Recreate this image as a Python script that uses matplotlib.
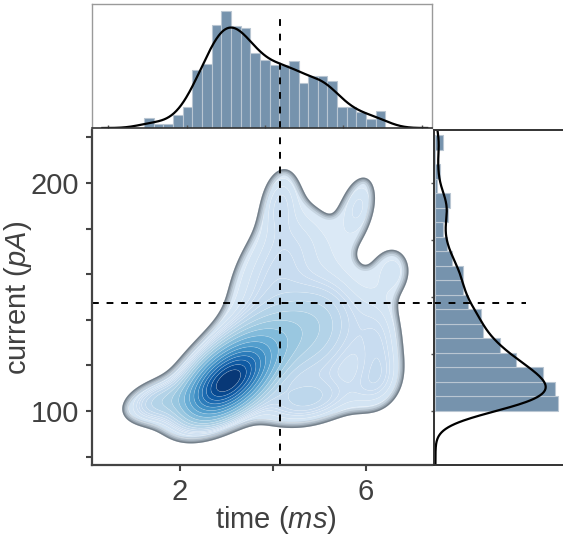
import numpy as np
import matplotlib
matplotlib.use("Agg")
import matplotlib.pyplot as plt
from matplotlib.patches import PathPatch

plt.rcParams['font.family'] = ['Liberation Sans', 'DejaVu Sans']
plt.rcParams['mathtext.fontset'] = 'custom'
plt.rcParams['mathtext.rm'] = 'Liberation Sans'
plt.rcParams['mathtext.it'] = 'Liberation Sans:italic'

# ---- marginal histograms (density per bin) ----
time_bin_start = 1.23
time_bin_width = 0.2075
time_density = [0.041, 0.017, 0.017, 0.053, 0.083, 0.231, 0.254, 0.410, 0.465,
                0.406, 0.396, 0.298, 0.270, 0.251, 0.251, 0.265, 0.178, 0.208,
                0.208, 0.185, 0.083, 0.083, 0.063, 0.037, 0.066]

current_bin_start = 100.0
current_bin_width = 6.36
current_density = [0.0256, 0.0251, 0.0225, 0.0169, 0.0135, 0.0100, 0.0096,
                   0.0068, 0.0057, 0.0057, 0.0035, 0.0024, 0.0015, 0.0026,
                   0.0031, 0.0003, 0.0009, 0.0000, 0.0015]

time_mean = 4.15
current_mean = 147.5

# ---- joint density as a sum of correlated gaussian blobs ----
blob_time = [3.0, 3.3, 5.0, 4.0, 4.15, 5.85, 6.6, 6.3, 1.5, 4.7, 5.0, 6.2]
blob_current = [112, 120, 135, 162, 193, 190, 162, 130, 104, 104, 175, 112]
blob_time_sd = [0.52, 0.8, 0.7, 0.7, 0.28, 0.28, 0.3, 0.35, 0.45, 0.7, 0.6, 0.4]
blob_current_sd = [9.5, 14, 18, 20, 10, 10, 8, 14, 6, 7, 10, 9]
blob_corr = [0.5, 0.6, 0.2, 0.5, 0.2, 0.3, 0.0, 0.0, 0.3, 0.3, 0.0, 0.2]
blob_weight = [0.30, 0.25, 0.15, 0.09, 0.016, 0.016, 0.011, 0.03, 0.028, 0.04, 0.01, 0.018]

time_lim = (0.108, 7.42)
current_lim = (76.3, 223.2)
n_levels = 20
thresh = 0.05

TEXT = '#404040'
SPINE = '#444444'
BAR = '#7693ad'
BAR_EDGE = '#b9c6d2'


def joint_density(X, Y):
    Z = np.zeros_like(X)
    for mx, my, sx, sy, r, w in zip(blob_time, blob_current, blob_time_sd,
                                    blob_current_sd, blob_corr, blob_weight):
        u = (X - mx) / sx
        v = (Y - my) / sy
        q = (u * u - 2 * r * u * v + v * v) / (1 - r * r)
        Z += w * np.exp(-0.5 * q) / (2 * np.pi * sx * sy * np.sqrt(1 - r * r))
    return Z


def smooth_hist(start, width, dens, grid, bw):
    dens = np.asarray(dens)
    centers = start + width * (np.arange(len(dens)) + 0.5)
    p = dens * width
    p = p / p.sum()
    z = (grid[:, None] - centers[None, :]) / bw
    return (np.exp(-0.5 * z ** 2) / (bw * np.sqrt(2 * np.pi))) @ p


fig = plt.figure(figsize=(5.63, 5.37), dpi=100)
W, H = 563.0, 537.0
ax = fig.add_axes([92 / W, (H - 465) / H, 340 / W, 335 / H])
ax_top = fig.add_axes([92 / W, (H - 128) / H, 340 / W, 124 / H])
ax_right = fig.add_axes([434 / W, (H - 465) / H, 129 / W, 335 / H])

# ---- joint KDE ----
gx = np.linspace(*time_lim, 400)
gy = np.linspace(*current_lim, 400)
X, Y = np.meshgrid(gx, gy)
Z = joint_density(X, Y)

vals = np.sort(Z.ravel())[::-1]
cum = np.cumsum(vals) / vals.sum()
props = np.linspace(thresh, 1, n_levels)
idx = np.searchsorted(cum, 1 - props)
levels = np.take(vals, idx, mode='clip')
levels = np.unique(levels)
levels[-1] = Z.max() * 1.001

# band colour follows the density value of each band
mids = 0.5 * (levels[:-1] + levels[1:])
frac = (mids - levels[0]) / (levels[-1] - levels[0])
cols = plt.cm.Blues(0.11 + 0.89 * frac ** 0.7)
ax.contourf(X, Y, Z, levels=levels, colors=cols, antialiased=True)
ax.contour(X, Y, Z, levels=levels[1:-1], colors='white', linewidths=0.4, alpha=0.3)

# soft grey rim along the outer contour, kept inside the filled region
outer = ax.contourf(X, Y, Z, levels=[levels[0], Z.max() * 2], colors='none')
clip = PathPatch(outer.get_paths()[0], transform=ax.transData,
                 facecolor='none', edgecolor='none')
ax.add_patch(clip)
for lw, a in [(9, 0.13), (6, 0.17), (3.8, 0.24), (2.0, 0.36)]:
    rim = ax.contour(X, Y, Z, levels=[levels[0]], colors='#3e4852',
                     linewidths=lw, alpha=a)
    rim.set_clip_path(clip)

ax.axvline(time_mean, color='black', ls=(0, (3.5, 4)), lw=1.4)
ax.axhline(current_mean, color='black', ls=(0, (3.5, 4)), lw=1.4)

ax.set_xlim(*time_lim)
ax.set_ylim(*current_lim)
ax.set_xticks([2, 6])
ax.set_xticks([4], minor=True)
ax.set_yticks([100, 200])
ax.set_yticks([80, 120, 140, 160, 180, 220], minor=True)
ax.tick_params(which='both', direction='out', length=4, width=1.5,
               color=SPINE, labelsize=21, labelcolor=TEXT, pad=5)
for s in ['top', 'right']:
    ax.spines[s].set_visible(False)
for s in ['left', 'bottom']:
    ax.spines[s].set_color(SPINE)
    ax.spines[s].set_linewidth(1.6)
ax.set_xlabel('time ($\\it{ms}$)', fontsize=21, color=TEXT)
ax.set_ylabel('current ($\\it{pA}$)', fontsize=21, color=TEXT)
ax.xaxis.set_label_coords(0.54, -0.116)
ax.yaxis.set_label_coords(-0.172, 0.5)

# ---- top marginal ----
t_edges = time_bin_start + time_bin_width * np.arange(len(time_density))
ax_top.bar(t_edges, time_density, width=time_bin_width, align='edge',
           color=BAR, edgecolor=BAR_EDGE, linewidth=0.8)
tg = np.linspace(time_bin_start - 0.9, t_edges[-1] + time_bin_width + 0.9, 400)
ax_top.plot(tg, smooth_hist(time_bin_start, time_bin_width, time_density, tg, 0.3),
            color='black', lw=1.6)
ax_top.axvline(time_mean, ymax=0.935, color='black', ls=(0, (3.5, 4)), lw=1.4)
ax_top.set_xlim(*time_lim)
ax_top.set_ylim(0, 0.492)
ax_top.set_yticks([])
ax_top.set_xticks([0.45, 2.15, 3.83, 5.5, 7.2])
ax_top.tick_params(axis='x', direction='in', length=2.5, width=1,
                   color='#555555', labelbottom=False)
for s in ['top', 'left', 'right']:
    ax_top.spines[s].set_color('#9a9a9a')
    ax_top.spines[s].set_linewidth(1.0)
ax_top.spines['bottom'].set_color('#333333')
ax_top.spines['bottom'].set_linewidth(1.2)

# ---- right marginal ----
c_edges = current_bin_start + current_bin_width * np.arange(len(current_density))
ax_right.barh(c_edges, current_density, height=current_bin_width, align='edge',
              color=BAR, edgecolor=BAR_EDGE, linewidth=0.8)
cg = np.linspace(current_lim[0], current_lim[1], 400)
ax_right.plot(smooth_hist(current_bin_start, current_bin_width, current_density, cg, 6.0),
              cg, color='black', lw=1.6)
ax_right.axhline(current_mean, xmax=0.71, color='black', ls=(0, (3.5, 4)), lw=1.4)
ax_right.set_ylim(*current_lim)
ax_right.set_xlim(-0.0003, 0.0267)
ax_right.set_xticks([])
ax_right.set_yticks([100, 125, 150, 175, 200])
ax_right.tick_params(axis='y', direction='out', length=2.5, width=1,
                     color='#555555', labelleft=False)
ax_right.spines['right'].set_visible(False)
for s in ['left', 'top', 'bottom']:
    ax_right.spines[s].set_color('#333333')
    ax_right.spines[s].set_linewidth(1.4)

fig.savefig('out.png', dpi=100)
